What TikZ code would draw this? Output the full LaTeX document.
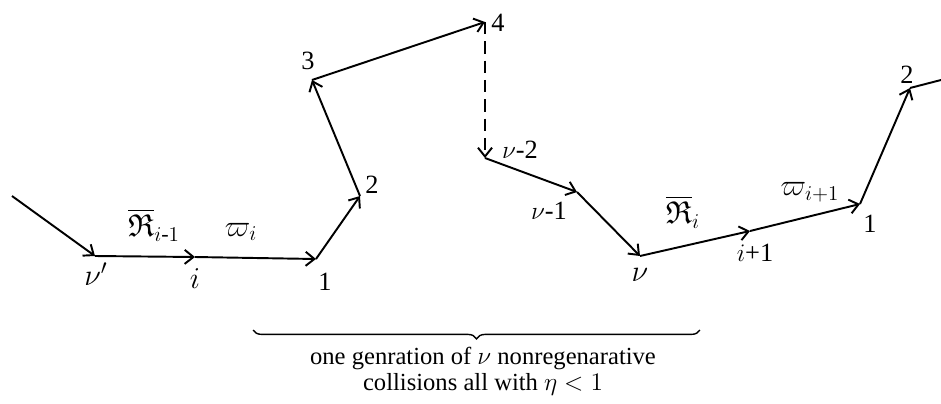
\documentclass[tikz,border=0pt]{standalone}
\usepackage{amsmath,amssymb}
\usepackage{fontspec}
\setmainfont{Liberation Serif}
\usetikzlibrary{decorations.pathreplacing,arrows.meta}

\begin{document}
\begin{tikzpicture}[x=0.02cm,y=-0.02cm,line width=1.1pt,>={Straight Barb[length=5pt,width=8pt]},
	lab/.style={inner sep=0pt,font=\fontsize{15}{17}\selectfont},
	mlab/.style={inner sep=0pt,font=\fontsize{18}{20}\selectfont}]
	\useasboundingbox (0,0) rectangle (941,403);
	% points of the path
	\coordinate (s) at (12,196);
	\coordinate (vp) at (95,256);
	\coordinate (i) at (195,257);
	\coordinate (a1) at (316,259);
	\coordinate (a2) at (360,196);
	\coordinate (a3) at (312,80);
	\coordinate (a4) at (485,22);
	\coordinate (m2) at (485,158);
	\coordinate (m1) at (577,192);
	\coordinate (v) at (640,256);
	\coordinate (ip) at (750,231);
	\coordinate (b1) at (860,204);
	\coordinate (b2) at (910,88);
	\coordinate (e) at (941,80);
	\foreach \a/\b in {s/vp, vp/i, i/a1, a1/a2, a2/a3, a3/a4, m2/m1, m1/v, v/ip, ip/b1, b1/b2} {
		\draw[->] (\a) -- (\b);
	}
	\draw[->, dash pattern=on 7pt off 4pt] (a4) -- (m2);
	\draw (b2) -- (e);
	% labels
	\node[mlab] (lvp) at (96,274) {$\nu'$};
	\node[mlab] (lr1) at (154,225) {$\overline{\mathfrak{R}}_{i\text{-}1}$};
	\node[mlab] (lw1) at (241,232) {$\varpi_i$};
	\node[mlab] (li) at (195,279) {$i$};
	\node[lab] (la1) at (325,282) {1};
	\node[lab] (la2) at (372,185) {2};
	\node[lab] (la3) at (308,61) {3};
	\node[lab] (la4) at (498,23) {4};
	\node[lab] (lm2) at (520,150) {$\nu$-2};
	\node[lab] (lm1) at (549,211) {$\nu$-1};
	\node[mlab] (lv) at (640,275) {$\nu$};
	\node[mlab] (lr2) at (683,212) {$\overline{\mathfrak{R}}_i$};
	\node[lab] (lip) at (755,253) {$i$+1};
	\node[mlab] (lw2) at (810,192) {$\varpi_{i+1}$};
	\node[lab] (lb1) at (870,224) {1};
	\node[lab] (lb2) at (907,75) {2};
	% brace
	\draw[line width=0.8pt, decorate, decoration={brace, amplitude=5pt}] (700,330) -- (253,330);
	\node[lab, align=center, font=\fontsize{14}{15}\selectfont] (note) at (483,371)
		{one genration of $\nu$ nonregenarative\\ collisions all with $\eta<1$};
\end{tikzpicture}
\end{document}
